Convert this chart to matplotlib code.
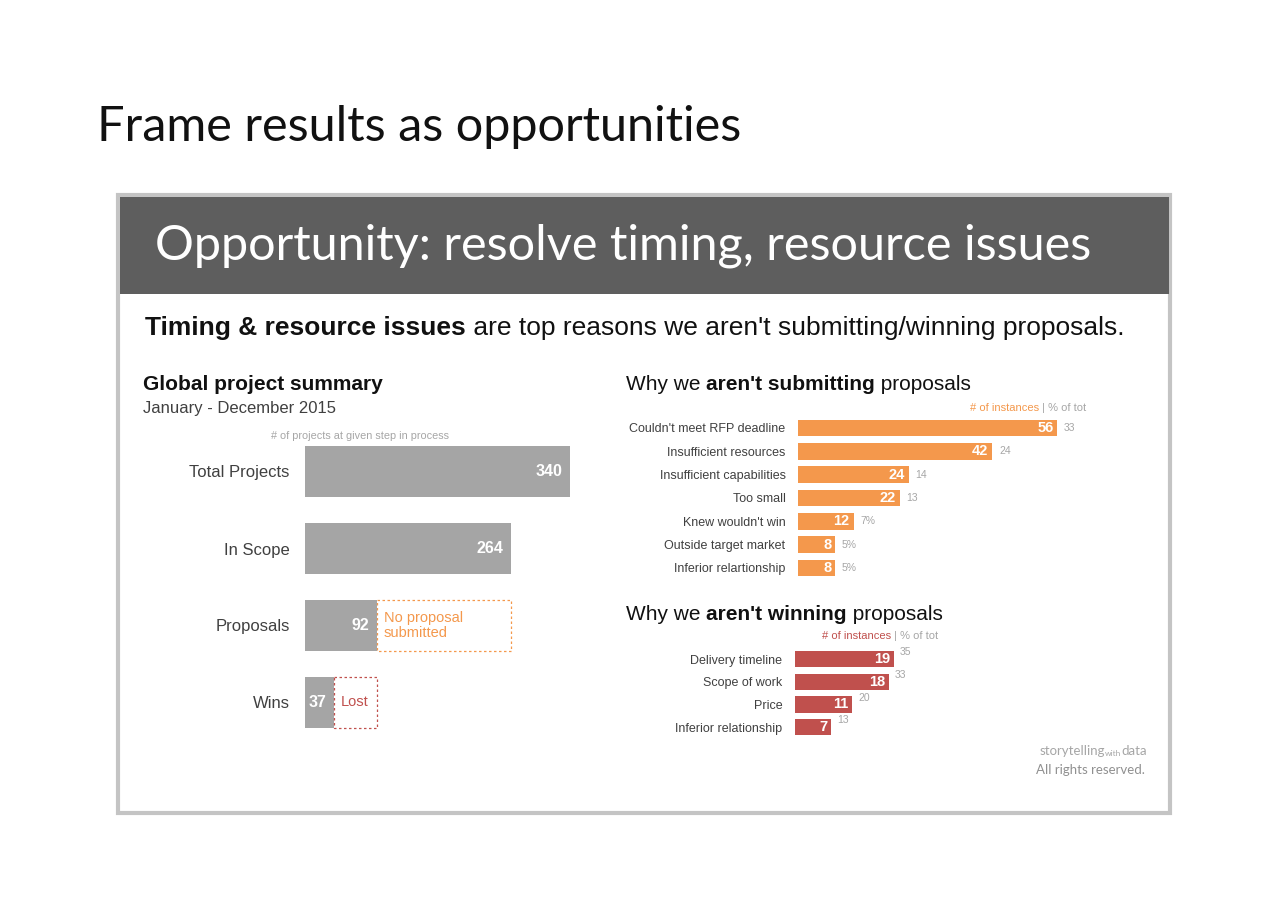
import matplotlib
matplotlib.use('Agg')
import matplotlib.pyplot as plt
from matplotlib.patches import Rectangle

# data
stages = ['Total Projects', 'In Scope', 'Proposals', 'Wins']
stage_counts = [340, 264, 92, 37]

submit_reasons = ['Couldn\'t meet RFP deadline', 'Insufficient resources', 'Insufficient capabilities',
                  'Too small', 'Knew wouldn\'t win', 'Outside target market', 'Inferior relartionship']
submit_counts = [56, 42, 24, 22, 12, 8, 8]
submit_pct = ['33', '24', '14', '13', '7%', '5%', '5%']

win_reasons = ['Delivery timeline', 'Scope of work', 'Price', 'Inferior relationship']
win_counts = [19, 18, 11, 7]
win_pct = ['35', '33', '20', '13']

W, H = 1280, 914
GREY_BAR = '#a5a5a5'
ORANGE = '#f4984c'
RED = '#c0504d'
DARK = '#404040'
LIGHT = '#a6a6a6'
SANS = 'Liberation Sans'
TITLE_FONT = 'Lato'

fig = plt.figure(figsize=(W / 100, H / 100), dpi=100)
bg = fig.add_axes([0, 0, 1, 1])
bg.set_xlim(0, W)
bg.set_ylim(H, 0)
bg.axis('off')


def px_axes(x0, y0, x1, y1):
    # axes from pixel box (top-left origin)
    return fig.add_axes([x0 / W, 1 - y1 / H, (x1 - x0) / W, (y1 - y0) / H])


def after(prev, s, **kw):
    return bg.annotate(s, xy=(1, 0), xycoords=prev, ha='left', va='bottom', **kw)


def before(prev, s, **kw):
    return bg.annotate(s, xy=(0, 0), xycoords=prev, ha='right', va='bottom', **kw)


# page title
bg.text(97, 127, 'Frame results as opportunities', fontsize=35, family=TITLE_FONT,
        color='#111111', va='center', ha='left')

# slide frame + header band
bg.add_patch(Rectangle((118, 195), 1052, 618, fill=False, edgecolor='#c4c4c4', lw=3))
bg.add_patch(Rectangle((120, 197), 1049, 97, facecolor='#5e5e5e', edgecolor='none'))
bg.text(155, 246, 'Opportunity: resolve timing, resource issues', fontsize=35,
        family=TITLE_FONT, color='white', va='center', ha='left')

t = bg.text(145, 328, 'Timing & resource issues', fontsize=19, weight='bold',
            family=SANS, color='#111111', va='center', ha='left')
after(t, ' are top reasons we aren\'t submitting/winning proposals.', fontsize=19,
      family=SANS, color='#111111')

# left panel titles
bg.text(143, 385, 'Global project summary', fontsize=15, weight='bold', family=SANS,
        color='#111111', va='center')
bg.text(143, 409, 'January - December 2015', fontsize=12, family=SANS, color=DARK, va='center')
bg.text(360, 436, '# of projects at given step in process', fontsize=7.8, family=SANS,
        color=LIGHT, va='center', ha='center')

# funnel chart
ax = px_axes(305, 433, 305 + 0.779 * 400, 741)
ypos = list(range(len(stages)))
ax.barh(ypos, stage_counts, height=0.66, color=GREY_BAR)
for i, v in enumerate(stage_counts):
    ax.text(v - 9, i, str(v), color='white', weight='bold', fontsize=11.5, family=SANS,
            ha='right', va='center')
# dashed remainder boxes
gap_colors = [ORANGE, RED]
gap_text = ['No proposal\nsubmitted', 'Lost']
for k, i in enumerate([2, 3]):
    ax.barh(i, stage_counts[i - 1] - stage_counts[i], left=stage_counts[i], height=0.66,
            fill=False, edgecolor=gap_colors[k], ls=(0, (2, 2)), lw=0.9)
    ax.text(stage_counts[i] + 9, i, gap_text[k], color=gap_colors[k], fontsize=10.5,
            family=SANS, ha='left', va='center', linespacing=1.1)
ax.set_xlim(0, 400)
ax.set_ylim(len(stages) - 0.5, -0.5)
ax.set_yticks(ypos, stages, fontsize=12, family=SANS, color=DARK)
ax.tick_params(axis='y', length=0, pad=11)
ax.set_xticks([])
for s in ax.spines.values():
    s.set_visible(False)
ax.patch.set_alpha(0)


def reason_chart(box, names, counts, pct, color, xmax, pct_dy):
    a = px_axes(*box)
    yy = list(range(len(names)))
    a.barh(yy, counts, height=0.72, color=color)
    for i, v in enumerate(counts):
        a.text(v - xmax * 0.012, i, str(v), color='white', weight='bold', fontsize=10.5,
               family=SANS, ha='right', va='center')
        a.text(v + xmax * 0.02, i + pct_dy, pct[i], color=LIGHT, fontsize=7.5,
               family=SANS, ha='left', va='center')
    a.set_xlim(0, xmax)
    a.set_ylim(len(names) - 0.5, -0.5)
    a.set_yticks(yy, names, fontsize=9, family=SANS, color=DARK)
    a.tick_params(axis='y', length=0, pad=9)
    a.set_xticks([])
    for s in a.spines.values():
        s.set_visible(False)
    a.patch.set_alpha(0)
    return a


# submitting panel
t = bg.text(626, 385, 'Why we ', fontsize=15, family=SANS, color='#111111', va='center')
t = after(t, 'aren\'t submitting', fontsize=15, weight='bold', family=SANS, color='#111111')
after(t, ' proposals', fontsize=15, family=SANS, color='#111111')
t = bg.text(1086, 408, ' | % of tot', fontsize=8, family=SANS, color=LIGHT, va='center', ha='right')
before(t, '# of instances', fontsize=8, family=SANS, color=ORANGE)
reason_chart((798, 416.3, 798 + 4.63 * 70, 579.6), submit_reasons, submit_counts, submit_pct,
             ORANGE, 70, 0.0)

# winning panel
t = bg.text(626, 614, 'Why we ', fontsize=15, family=SANS, color='#111111', va='center')
t = after(t, 'aren\'t winning', fontsize=15, weight='bold', family=SANS, color='#111111')
after(t, ' proposals', fontsize=15, family=SANS, color='#111111')
t = bg.text(938, 636, ' | % of tot', fontsize=8, family=SANS, color=LIGHT, va='center', ha='right')
before(t, '# of instances', fontsize=8, family=SANS, color=RED)
reason_chart((795, 647.7, 795 + 5.2 * 60, 738.4), win_reasons, win_counts, win_pct,
             RED, 60, -0.3)

# footer
t = bg.text(1147, 751, 'data', fontsize=9.5, family=TITLE_FONT, color=LIGHT, va='center', ha='right')
t = before(t, 'with', fontsize=6, family=TITLE_FONT, color=LIGHT)
before(t, 'storytelling', fontsize=9.5, family=TITLE_FONT, color=LIGHT)
bg.text(1145, 770, 'All rights reserved.', fontsize=9.5, family=TITLE_FONT, color='#909090',
        va='center', ha='right')

fig.savefig('out.png', dpi=100)
